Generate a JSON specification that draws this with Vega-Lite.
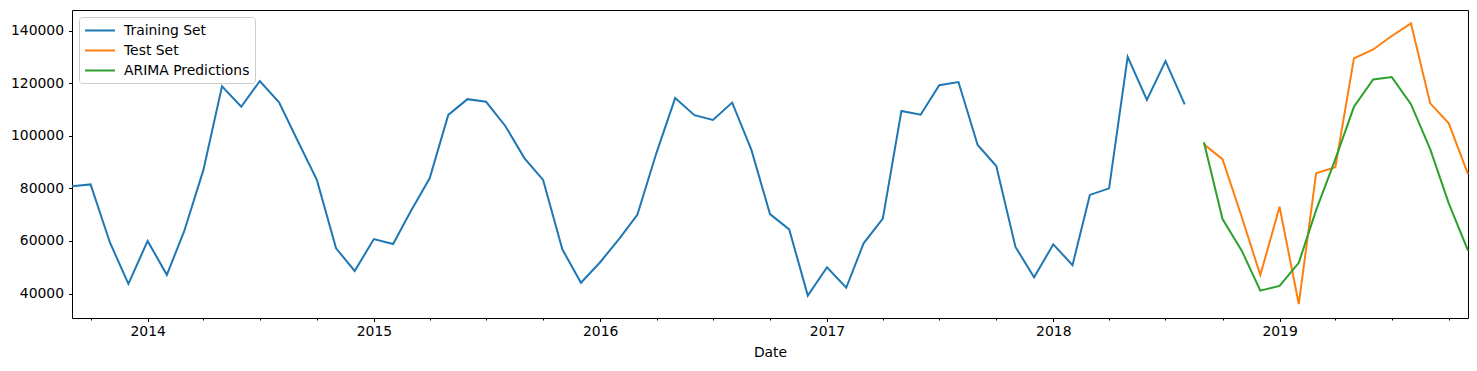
{
  "$schema": "https://vega.github.io/schema/vega-lite/v6.json",
  "width": 1396,
  "height": 308,
  "autosize": {"type": "none"},
  "padding": {"left": 72, "top": 10, "right": 9, "bottom": 53},
  "background": "white",
  "config": {
    "font": "DejaVu Sans",
    "view": {"stroke": "#000000", "strokeWidth": 1},
    "axis": {
      "grid": false,
      "domain": false,
      "tickColor": "#000000",
      "labelColor": "#000000",
      "titleColor": "#000000",
      "labelFont": "DejaVu Sans",
      "titleFont": "DejaVu Sans",
      "labelFontSize": 13.9,
      "titleFontSize": 13.9,
      "titleFontWeight": "normal",
      "tickWidth": 1
    }
  },
  "data": {
    "values": [
      {"date": "2013-09-01T00:00:00", "value": 80800, "series": "Training Set"},
      {"date": "2013-10-01T00:00:00", "value": 81500, "series": "Training Set"},
      {"date": "2013-11-01T00:00:00", "value": 59500, "series": "Training Set"},
      {"date": "2013-12-01T00:00:00", "value": 43700, "series": "Training Set"},
      {"date": "2014-01-01T00:00:00", "value": 60000, "series": "Training Set"},
      {"date": "2014-02-01T00:00:00", "value": 47100, "series": "Training Set"},
      {"date": "2014-03-01T00:00:00", "value": 63700, "series": "Training Set"},
      {"date": "2014-04-01T00:00:00", "value": 87000, "series": "Training Set"},
      {"date": "2014-05-01T00:00:00", "value": 118800, "series": "Training Set"},
      {"date": "2014-06-01T00:00:00", "value": 111000, "series": "Training Set"},
      {"date": "2014-07-01T00:00:00", "value": 120800, "series": "Training Set"},
      {"date": "2014-08-01T00:00:00", "value": 112700, "series": "Training Set"},
      {"date": "2014-09-01T00:00:00", "value": 97600, "series": "Training Set"},
      {"date": "2014-10-01T00:00:00", "value": 83200, "series": "Training Set"},
      {"date": "2014-11-01T00:00:00", "value": 57200, "series": "Training Set"},
      {"date": "2014-12-01T00:00:00", "value": 48600, "series": "Training Set"},
      {"date": "2015-01-01T00:00:00", "value": 60700, "series": "Training Set"},
      {"date": "2015-02-01T00:00:00", "value": 58800, "series": "Training Set"},
      {"date": "2015-03-01T00:00:00", "value": 71100, "series": "Training Set"},
      {"date": "2015-04-01T00:00:00", "value": 83800, "series": "Training Set"},
      {"date": "2015-05-01T00:00:00", "value": 107900, "series": "Training Set"},
      {"date": "2015-06-01T00:00:00", "value": 113900, "series": "Training Set"},
      {"date": "2015-07-01T00:00:00", "value": 112900, "series": "Training Set"},
      {"date": "2015-08-01T00:00:00", "value": 103700, "series": "Training Set"},
      {"date": "2015-09-01T00:00:00", "value": 91400, "series": "Training Set"},
      {"date": "2015-10-01T00:00:00", "value": 83200, "series": "Training Set"},
      {"date": "2015-11-01T00:00:00", "value": 56800, "series": "Training Set"},
      {"date": "2015-12-01T00:00:00", "value": 44100, "series": "Training Set"},
      {"date": "2016-01-01T00:00:00", "value": 51900, "series": "Training Set"},
      {"date": "2016-02-01T00:00:00", "value": 60900, "series": "Training Set"},
      {"date": "2016-03-01T00:00:00", "value": 69900, "series": "Training Set"},
      {"date": "2016-04-01T00:00:00", "value": 93600, "series": "Training Set"},
      {"date": "2016-05-01T00:00:00", "value": 114300, "series": "Training Set"},
      {"date": "2016-06-01T00:00:00", "value": 107800, "series": "Training Set"},
      {"date": "2016-07-01T00:00:00", "value": 106000, "series": "Training Set"},
      {"date": "2016-08-01T00:00:00", "value": 112600, "series": "Training Set"},
      {"date": "2016-09-01T00:00:00", "value": 94600, "series": "Training Set"},
      {"date": "2016-10-01T00:00:00", "value": 70200, "series": "Training Set"},
      {"date": "2016-11-01T00:00:00", "value": 64400, "series": "Training Set"},
      {"date": "2016-12-01T00:00:00", "value": 39200, "series": "Training Set"},
      {"date": "2017-01-01T00:00:00", "value": 50000, "series": "Training Set"},
      {"date": "2017-02-01T00:00:00", "value": 42200, "series": "Training Set"},
      {"date": "2017-03-01T00:00:00", "value": 59100, "series": "Training Set"},
      {"date": "2017-04-01T00:00:00", "value": 68500, "series": "Training Set"},
      {"date": "2017-05-01T00:00:00", "value": 109400, "series": "Training Set"},
      {"date": "2017-06-01T00:00:00", "value": 108000, "series": "Training Set"},
      {"date": "2017-07-01T00:00:00", "value": 119200, "series": "Training Set"},
      {"date": "2017-08-01T00:00:00", "value": 120400, "series": "Training Set"},
      {"date": "2017-09-01T00:00:00", "value": 96500, "series": "Training Set"},
      {"date": "2017-10-01T00:00:00", "value": 88500, "series": "Training Set"},
      {"date": "2017-11-01T00:00:00", "value": 57700, "series": "Training Set"},
      {"date": "2017-12-01T00:00:00", "value": 46200, "series": "Training Set"},
      {"date": "2018-01-01T00:00:00", "value": 58700, "series": "Training Set"},
      {"date": "2018-02-01T00:00:00", "value": 50800, "series": "Training Set"},
      {"date": "2018-03-01T00:00:00", "value": 77500, "series": "Training Set"},
      {"date": "2018-04-01T00:00:00", "value": 80000, "series": "Training Set"},
      {"date": "2018-05-01T00:00:00", "value": 130000, "series": "Training Set"},
      {"date": "2018-06-01T00:00:00", "value": 113600, "series": "Training Set"},
      {"date": "2018-07-01T00:00:00", "value": 128400, "series": "Training Set"},
      {"date": "2018-08-01T00:00:00", "value": 111900, "series": "Training Set"},
      {"date": "2018-09-01T00:00:00", "value": 96700, "series": "Test Set"},
      {"date": "2018-10-01T00:00:00", "value": 91100, "series": "Test Set"},
      {"date": "2018-11-01T00:00:00", "value": 69100, "series": "Test Set"},
      {"date": "2018-12-01T00:00:00", "value": 47000, "series": "Test Set"},
      {"date": "2019-01-01T00:00:00", "value": 73000, "series": "Test Set"},
      {"date": "2019-02-01T00:00:00", "value": 36000, "series": "Test Set"},
      {"date": "2019-03-01T00:00:00", "value": 85700, "series": "Test Set"},
      {"date": "2019-04-01T00:00:00", "value": 88000, "series": "Test Set"},
      {"date": "2019-05-01T00:00:00", "value": 129400, "series": "Test Set"},
      {"date": "2019-06-01T00:00:00", "value": 132800, "series": "Test Set"},
      {"date": "2019-07-01T00:00:00", "value": 137900, "series": "Test Set"},
      {"date": "2019-08-01T00:00:00", "value": 142700, "series": "Test Set"},
      {"date": "2019-09-01T00:00:00", "value": 112300, "series": "Test Set"},
      {"date": "2019-10-01T00:00:00", "value": 104700, "series": "Test Set"},
      {"date": "2019-11-01T00:00:00", "value": 85400, "series": "Test Set"},
      {"date": "2018-09-01T00:00:00", "value": 97500, "series": "ARIMA Predictions"},
      {"date": "2018-10-01T00:00:00", "value": 68300, "series": "ARIMA Predictions"},
      {"date": "2018-11-01T00:00:00", "value": 56300, "series": "ARIMA Predictions"},
      {"date": "2018-12-01T00:00:00", "value": 41100, "series": "ARIMA Predictions"},
      {"date": "2019-01-01T00:00:00", "value": 42900, "series": "ARIMA Predictions"},
      {"date": "2019-02-01T00:00:00", "value": 51700, "series": "ARIMA Predictions"},
      {"date": "2019-03-01T00:00:00", "value": 71700, "series": "ARIMA Predictions"},
      {"date": "2019-04-01T00:00:00", "value": 91100, "series": "ARIMA Predictions"},
      {"date": "2019-05-01T00:00:00", "value": 111000, "series": "ARIMA Predictions"},
      {"date": "2019-06-01T00:00:00", "value": 121400, "series": "ARIMA Predictions"},
      {"date": "2019-07-01T00:00:00", "value": 122300, "series": "ARIMA Predictions"},
      {"date": "2019-08-01T00:00:00", "value": 112000, "series": "ARIMA Predictions"},
      {"date": "2019-09-01T00:00:00", "value": 94900, "series": "ARIMA Predictions"},
      {"date": "2019-10-01T00:00:00", "value": 74300, "series": "ARIMA Predictions"},
      {"date": "2019-11-01T00:00:00", "value": 56300, "series": "ARIMA Predictions"}
    ]
  },
  "mark": {"type": "line", "strokeWidth": 2},
  "encoding": {
    "x": {
      "field": "date",
      "type": "temporal",
      "title": "Date",
      "scale": {
        "domain": [
          {"year": 2013, "month": 9, "date": 1},
          {"year": 2019, "month": 11, "date": 1}
        ],
        "nice": false
      },
      "axis": {
        "tickCount": {"interval": "month", "step": 3},
        "labelExpr": "month(datum.value) == 0 ? timeFormat(datum.value, '%Y') : ''",
        "tickSize": {"condition": {"test": "month(datum.value) == 0", "value": 3.5}, "value": 2},
        "labelPadding": 3,
        "labelFlush": false,
        "labelOverlap": false,
        "titlePadding": 7
      }
    },
    "y": {
      "field": "value",
      "type": "quantitative",
      "title": null,
      "scale": {"domain": [30700, 147800], "nice": false, "zero": false},
      "axis": {
        "values": [40000, 60000, 80000, 100000, 120000, 140000],
        "format": "d",
        "tickSize": 3.5,
        "labelPadding": 5
      }
    },
    "color": {
      "field": "series",
      "type": "nominal",
      "sort": ["Training Set", "Test Set", "ARIMA Predictions"],
      "scale": {
        "domain": ["Training Set", "Test Set", "ARIMA Predictions"],
        "range": ["#1f77b4", "#ff7f0e", "#2ca02c"]
      },
      "legend": {
        "title": null,
        "orient": "top-left",
        "offset": 7,
        "padding": 5,
        "fillColor": "rgba(255,255,255,0.8)",
        "strokeColor": "#cccccc",
        "cornerRadius": 3,
        "symbolType": "M-1,0H3",
        "symbolSize": 225,
        "symbolStrokeWidth": 2,
        "symbolFillColor": "transparent",
        "labelFont": "DejaVu Sans",
        "labelFontSize": 13.9,
        "labelColor": "#000000",
        "labelOffset": 23,
        "rowPadding": 4
      }
    }
  }
}
